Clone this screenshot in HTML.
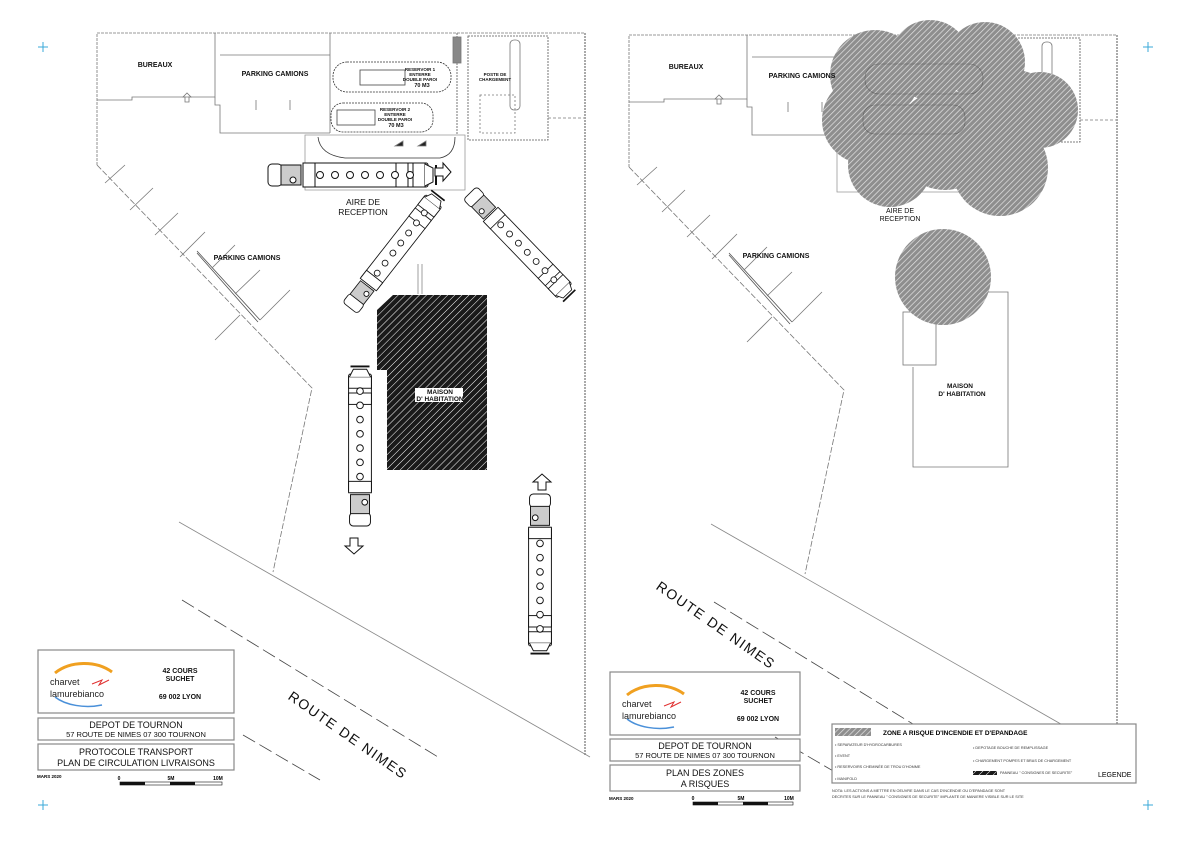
<!DOCTYPE html>
<html><head><meta charset="utf-8"><style>
html,body{margin:0;padding:0;background:#fff;}
svg{display:block;font-family:"Liberation Sans",Arial,sans-serif;}
</style></head><body>
<svg width="1191" height="842" viewBox="0 0 1191 842" xmlns="http://www.w3.org/2000/svg">
<defs>
<pattern id="hb" patternUnits="userSpaceOnUse" width="5" height="5" patternTransform="rotate(45)">
<rect width="5" height="5" fill="#1a1a1a"/><line x1="0" y1="0" x2="0" y2="5" stroke="#fff" stroke-width="1"/></pattern>
<pattern id="hg" patternUnits="userSpaceOnUse" width="4" height="4" patternTransform="rotate(45)">
<rect width="4" height="4" fill="#8e8e8e"/><line x1="0" y1="0" x2="0" y2="4" stroke="#e4e4e4" stroke-width="1.4"/></pattern>
<g id="truck" fill="#fff" stroke="#111" stroke-width="1">
<rect x="0" y="-11" width="14" height="22" rx="4"/>
<rect x="13" y="-10" width="20" height="20" fill="#ccc"/>
<circle cx="25" cy="5" r="3"/>
<rect x="35" y="-12" width="125" height="24" rx="2"/>
<rect x="35" y="-12" width="12" height="24"/>
<rect x="128" y="-12" width="12" height="24"/>
<rect x="145" y="-12" width="12" height="24"/>
<path d="M157 -11 L165 -7 L165 7 L157 11" />
<line x1="168" y1="-10" x2="168" y2="10" stroke-width="2"/>
<circle cx="52" cy="0" r="3.5"/><circle cx="67" cy="0" r="3.5"/><circle cx="82" cy="0" r="3.5"/><circle cx="97" cy="0" r="3.5"/><circle cx="112" cy="0" r="3.5"/><circle cx="127" cy="0" r="3.5"/><circle cx="142" cy="0" r="3.5"/>
</g>
<g id="site" fill="none" stroke="#777" stroke-width="0.8">
<path d="M97 165 L97 33 L585 33" stroke-dasharray="3 1"/>
<path d="M97 165 L312 388 L273 572" stroke-dasharray="6 2"/>
<path d="M97 100 L132 100 L132 97 L215 97 L215 33"/>
<path d="M215 97 L215 105 L220 105 L220 133 L330 133"/>
<path d="M220 55 L330 55 M330 33 L330 133"/>
<path d="M256 100 L256 110 M290 100 L290 110"/>
<path d="M183 97 l4 -4 l4 4 h-2 v5 h-4 v-5z"/>
<rect x="333" y="62" width="118" height="30" rx="14" stroke="#333" stroke-dasharray="2 1"/>
<rect x="331" y="103" width="102" height="29" rx="12" stroke="#333" stroke-dasharray="2 1"/>
<rect x="360" y="70" width="45" height="15" stroke="#444"/>
<rect x="337" y="110" width="38" height="15" stroke="#444"/>
<path d="M457 33 V135 M468 36 V140 H548 V36 Z" stroke="#555" stroke-dasharray="2 1"/>
<path d="M548 118 H585" stroke-dasharray="3 2"/>
<rect x="480" y="95" width="35" height="38" stroke-dasharray="2 2"/>
<rect x="510" y="40" width="10" height="70" rx="4"/>
<rect x="453" y="37" width="8" height="26" fill="#888"/>
<path d="M305 135 L465 135 L465 190 L305 190 Z" stroke="#999"/>
<path d="M318 137 Q320 155 345 158 L440 158 Q455 155 455 137" stroke="#333"/>
<path d="M395 146 h8 v-5z M418 146 h8 v-5z" fill="#222"/>
<path d="M585 33 V755" stroke="#aaa" stroke-width="2" stroke-dasharray="2 1"/>
<path d="M197 251 L260 320 M197 253 L258 322" stroke="#555"/>
<path d="M260 320 L290 290 M235 294 L260 270 M212 268 L235 245"/>
<path d="M105 183 L125 165 M130 210 L153 188 M155 235 L178 213 M180 257 L205 232 M215 340 L240 315"/>
<path d="M179 522 L590 757" stroke="#888"/>
<path d="M182 600 L438 757" stroke="#444" stroke-dasharray="14 5"/>
<path d="M243 735 L320 780" stroke="#444" stroke-dasharray="14 5"/>
<path d="M418 264 v30 M422 264 v30" stroke="#888"/>
</g>
</defs>
<rect width="1191" height="842" fill="#fff"/>
<g stroke="#3aa8d8" stroke-width="1">
<path d="M38 47h10M43 42v10M1143 47h10M1148 42v10M38 805h10M43 800v10M1143 805h10M1148 800v10"/>
</g>

<!-- LEFT PANEL -->
<use href="#site"/>
<g font-size="7" font-weight="bold" fill="#111" text-anchor="middle">
<text x="155" y="67">BUREAUX</text>
<text x="275" y="76">PARKING CAMIONS</text>
<text x="247" y="260">PARKING CAMIONS</text>
<text x="495" y="76" font-size="4.5">POSTE DE</text><text x="495" y="81" font-size="4.5">CHARGEMENT</text>
<text x="420" y="71" font-size="4.5">RESERVOIR 1</text><text x="420" y="76" font-size="4.5">ENTERRE</text><text x="420" y="81" font-size="4.5">DOUBLE PAROI</text><text x="422" y="87" font-size="5.5">70 M3</text>
<text x="395" y="111" font-size="4.5">RESERVOIR 2</text><text x="395" y="116" font-size="4.5">ENTERRE</text><text x="395" y="121" font-size="4.5">DOUBLE PAROI</text><text x="396" y="127" font-size="5.5">70 M3</text>
</g>
<g font-size="8.5" fill="#111" text-anchor="middle"><text x="363" y="205">AIRE DE</text><text x="363" y="215">RECEPTION</text></g>
<path d="M393 295 L487 295 L487 470 L387 470 L387 370 L377 370 L377 310 Z" fill="url(#hb)"/>
<rect x="415" y="388" width="48" height="14" fill="#fff"/>
<g font-size="6.5" font-weight="bold" text-anchor="middle" fill="#111"><text x="440" y="394">MAISON</text><text x="440" y="401">D' HABITATION</text></g>
<use href="#truck" transform="translate(268,175)"/>
<use href="#truck" transform="translate(350,308) rotate(-52) scale(0.85)"/>
<use href="#truck" transform="translate(470,193) rotate(46) scale(0.85)"/>
<use href="#truck" transform="translate(360,526) rotate(-90) scale(0.95)"/>
<use href="#truck" transform="translate(540,494) rotate(90) scale(0.95)"/>
<g fill="#fff" stroke="#111" stroke-width="1">
<path d="M435 168 h8 v-5 l8 9 l-8 9 v-5 h-8z"/>
<path d="M350 538 v8 h-5 l9 8 l9 -8 h-5 v-8z"/>
<path d="M538 490 v-8 h-5 l9 -8 l9 8 h-5 v8z"/>
</g>
<text x="348" y="740" font-size="14" fill="#111" text-anchor="middle" letter-spacing="1.5" transform="rotate(35 348 735)">ROUTE  DE  NIMES</text>
<g fill="#fff" stroke="#888" stroke-width="1.2">
<rect x="38" y="650" width="196" height="63"/>
<rect x="38" y="718" width="196" height="22"/>
<rect x="38" y="744" width="196" height="26"/>
</g>
<path d="M55 673 A40 30 0 0 1 112 672" fill="none" stroke="#f0a020" stroke-width="3"/>
<path d="M55 697 A40 22 0 0 0 102 705" fill="none" stroke="#4a90d9" stroke-width="1.5"/>
<path d="M92 684 l10 -4 l-3 5 l10 -5" fill="none" stroke="#e03030" stroke-width="1"/>
<text x="50" y="685" font-size="9" fill="#222">charvet</text>
<text x="50" y="697" font-size="9" fill="#222">lamurebianco</text>
<g font-size="7" font-weight="bold" fill="#111" text-anchor="middle"><text x="180" y="673">42 COURS</text><text x="180" y="681">SUCHET</text><text x="180" y="699">69 002  LYON</text></g>
<g fill="#111" text-anchor="middle"><text x="136" y="728" font-size="9">DEPOT  DE  TOURNON</text><text x="136" y="737" font-size="7.5">57  ROUTE DE NIMES      07 300    TOURNON</text>
<text x="136" y="755" font-size="9">PROTOCOLE TRANSPORT</text><text x="136" y="766" font-size="9">PLAN DE CIRCULATION LIVRAISONS</text></g>
<text x="37" y="778" font-size="4.5" font-weight="bold">MARS 2020</text>
<g font-size="5" font-weight="bold" text-anchor="middle"><text x="119" y="780">0</text><text x="171" y="780">5M</text><text x="218" y="780">10M</text></g>
<rect x="120" y="782" width="102" height="3" fill="#fff" stroke="#111" stroke-width="0.6"/>
<rect x="120" y="782" width="25" height="3" fill="#111"/><rect x="170" y="782" width="25" height="3" fill="#111"/>

<!-- RIGHT PANEL -->
<use href="#site" transform="translate(532,2)"/>
<g fill="none" stroke="#777" stroke-width="0.8">
<rect x="903" y="312" width="33" height="53"/>
<path d="M913 367 L913 467 L1008 467 L1008 292 L960 292"/>
</g>
<g fill="url(#hg)">
<circle cx="875" cy="75" r="45"/><circle cx="930" cy="60" r="40"/><circle cx="985" cy="62" r="40"/>
<circle cx="1040" cy="110" r="38"/><circle cx="866" cy="120" r="44"/><circle cx="890" cy="165" r="42"/>
<circle cx="1000" cy="168" r="48"/><circle cx="945" cy="140" r="50"/><circle cx="1015" cy="110" r="40"/>
<circle cx="943" cy="277" r="48"/>
</g>
<g fill="none" stroke="#333" stroke-width="0.6" opacity="0.5">
<rect x="865" y="64" width="118" height="30" rx="14"/><rect x="863" y="105" width="102" height="29" rx="12"/>
</g>
<g font-size="7" font-weight="bold" fill="#111" text-anchor="middle">
<text x="686" y="69">BUREAUX</text>
<text x="802" y="78">PARKING CAMIONS</text>
<text x="776" y="258">PARKING CAMIONS</text>
<text x="960" y="388" font-size="6.5">MAISON</text><text x="962" y="396" font-size="6.5">D' HABITATION</text>
</g>
<g font-size="7" fill="#111" text-anchor="middle"><text x="900" y="213">AIRE DE</text><text x="900" y="221">RECEPTION</text></g>
<text x="716" y="630" font-size="14" fill="#111" text-anchor="middle" letter-spacing="1.5" transform="rotate(35 716 625)">ROUTE  DE  NIMES</text>
<g fill="#fff" stroke="#888" stroke-width="1.2">
<rect x="610" y="672" width="190" height="63"/>
<rect x="610" y="739" width="190" height="22"/>
<rect x="610" y="765" width="190" height="26"/>
</g>
<path d="M627 695 A40 30 0 0 1 684 694" fill="none" stroke="#f0a020" stroke-width="3"/>
<path d="M627 719 A40 22 0 0 0 674 727" fill="none" stroke="#4a90d9" stroke-width="1.5"/>
<path d="M664 706 l10 -4 l-3 5 l10 -5" fill="none" stroke="#e03030" stroke-width="1"/>
<text x="622" y="707" font-size="9" fill="#222">charvet</text>
<text x="622" y="719" font-size="9" fill="#222">lamurebianco</text>
<g font-size="7" font-weight="bold" fill="#111" text-anchor="middle"><text x="758" y="695">42 COURS</text><text x="758" y="703">SUCHET</text><text x="758" y="721">69 002  LYON</text></g>
<g fill="#111" text-anchor="middle"><text x="705" y="749" font-size="9">DEPOT  DE  TOURNON</text><text x="705" y="758" font-size="7.5">57  ROUTE DE NIMES      07 300    TOURNON</text>
<text x="705" y="776" font-size="9">PLAN DES ZONES</text><text x="705" y="787" font-size="9">A RISQUES</text></g>
<text x="609" y="800" font-size="4.5" font-weight="bold">MARS 2020</text>
<g font-size="5" font-weight="bold" text-anchor="middle"><text x="693" y="800">0</text><text x="741" y="800">5M</text><text x="789" y="800">10M</text></g>
<rect x="693" y="802" width="100" height="3" fill="#fff" stroke="#111" stroke-width="0.6"/>
<rect x="693" y="802" width="25" height="3" fill="#111"/><rect x="743" y="802" width="25" height="3" fill="#111"/>
<rect x="832" y="724" width="304" height="59" fill="#fff" stroke="#888" stroke-width="1.2"/>
<rect x="835" y="728" width="36" height="8" fill="url(#hg)"/>
<text x="883" y="735" font-size="6.5" font-weight="bold">ZONE A RISQUE  D'INCENDIE ET D'EPANDAGE</text>
<g font-size="3.8" fill="#333">
<text x="835" y="746">• SEPARATEUR D'HYDROCARBURES</text>
<text x="835" y="757">• EVENT</text>
<text x="835" y="768">• RESERVOIRS    CHEMINÉE DE TROU D'HOMME</text>
<text x="835" y="780">• MANIFOLD</text>
<text x="973" y="749">• DEPOTAGE  BOUCHE DE REMPLISSAGE</text>
<text x="973" y="762">• CHARGEMENT  POMPES ET BRAS DE CHARGEMENT</text>
<text x="1000" y="774">PANNEAU " CONSIGNES DE SECURITE"</text>
<text x="832" y="792">NOTA: LES ACTIONS A METTRE EN OEUVRE DANS LE CAS D'INCENDIE OU D'EPANDAGE SONT</text>
<text x="832" y="798">DECRITES SUR LE PANNEAU " CONSIGNES DE SECURITE" IMPLANTE DE MANIERE VISIBLE SUR LE SITE</text>
</g>
<rect x="973" y="771" width="24" height="4" fill="url(#hb)"/>
<text x="1098" y="777" font-size="7">LEGENDE</text>
</svg>
</body></html>
